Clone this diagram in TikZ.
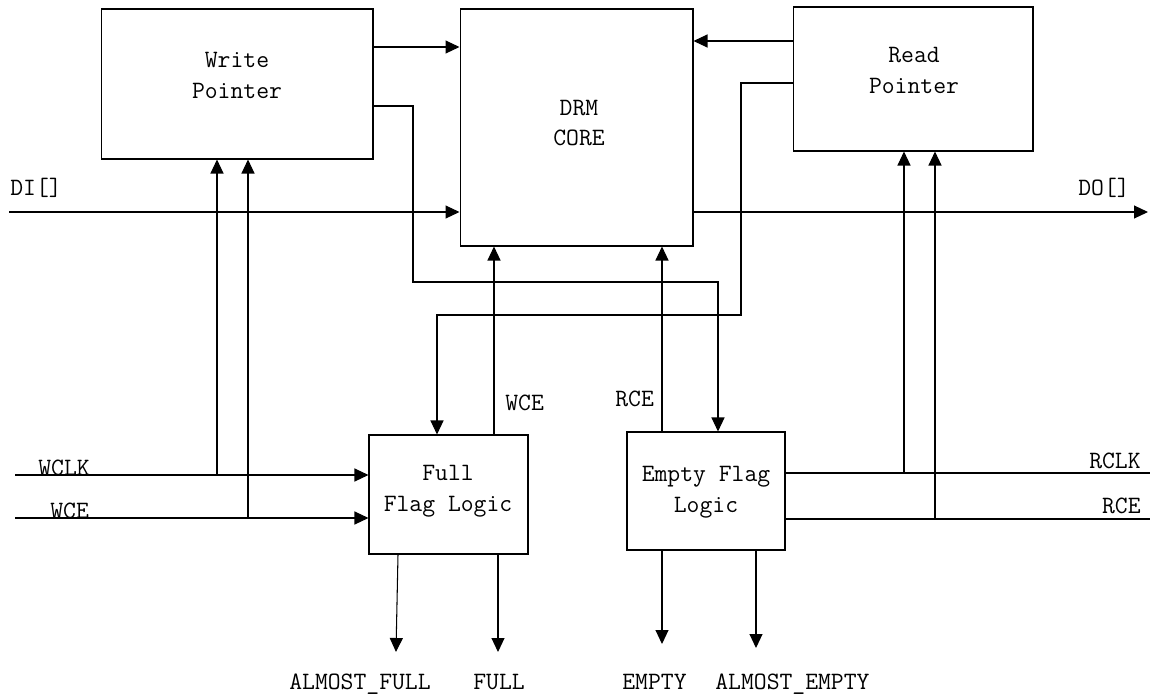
\documentclass[tikz,border=0pt]{standalone}
\usepackage{fontspec}
\usepackage{tikz}
\usetikzlibrary{arrows.meta,positioning}

\begin{document}
\begin{tikzpicture}[x=0.02cm, y=-0.02cm, font=\ttfamily\fontsize{14.2}{17.6}\selectfont]
			\tikzstyle{Block}	= [draw, line width=0.6pt, inner sep=0pt]
			\tikzstyle{Name}	= [align=center, inner sep=0pt]
			\tikzstyle{Sig}		= [line width=0.6pt, -{Triangle[length=0.28cm, width=0.26cm]}]
			\tikzstyle{Wire}	= [line width=0.6pt]
			\tikzstyle{Pin}		= [inner sep=0pt]

			\useasboundingbox (0,0) rectangle (1150,697);

			% blocks
			\node (WP)  at (237,84)      [Block, minimum width=5.44cm, minimum height=3cm] {};
			\node (DRM) at (576.5,127.5) [Block, minimum width=4.66cm, minimum height=4.74cm] {};
			\node (RP)  at (913,79)      [Block, minimum width=4.8cm, minimum height=2.88cm] {};
			\node (FFL) at (448.5,494.5) [Block, minimum width=3.18cm, minimum height=2.38cm] {};
			\node (EFL) at (706,491)     [Block, minimum width=3.16cm, minimum height=2.36cm] {};
			\node (WPt)  at (237,75.5) [Name] {Write\\Pointer};
			\node (DRMt) at (579,123)  [Name] {DRM\\CORE};
			\node (RPt)  at (914,70)   [Name] {Read\\Pointer};
			\node (FFLt) at (448,491)  [Name] {Full\\Flag Logic};
			\node (EFLt) at (706,492)  [Name] {Empty Flag\\Logic};

			% pointers to core
			\draw [Sig] (WP.east |- 0,47) -- (DRM.west |- 0,47);
			\draw [Sig] (RP.west |- 0,41) -- (DRM.east |- 0,41);

			% data in / out
			\coordinate (DIin)  at (9,212);
			\coordinate (DOout) at (1148,212);
			\draw [Sig] (DIin) -- (DIin -| DRM.west);
			\draw [Sig] (DOout -| DRM.east) -- (DOout);
			\node (lDI) at (10,195)   [Pin, anchor=base west] {DI[]};
			\node (lDO) at (1078,195) [Pin, anchor=base west] {DO[]};

			% pointers to flag logic
			\coordinate (wbend) at (413,282);
			\coordinate (rbend) at (741,315);
			\draw [Sig] (WP.east |- 0,106) -| (wbend) -| (718,0 |- EFL.north);
			\draw [Sig] (RP.west |- 0,83) -| (rbend) -| (437,0 |- FFL.north);

			% enables to core
			\draw [Sig] (494,0 |- FFL.north) -- (494,0 |- DRM.south);
			\draw [Sig] (662,0 |- EFL.north) -- (662,0 |- DRM.south);
			\node (lWCEc) at (505,410) [Pin, anchor=base west] {WCE};
			\node (lRCEc) at (615,406) [Pin, anchor=base west] {RCE};

			% write side inputs
			\foreach \x/\y/\t in {217/475/WCLK, 248/518/WCE} {
				\coordinate (in\t)  at (15,\y);
				\coordinate (tap\t) at (\x,\y);
				\draw [Sig] (in\t) -- (in\t -| FFL.west);
				\draw [Sig] (tap\t) -- (tap\t |- WP.south);
			}
			\node (lWCLK) at (38,475) [Pin, anchor=base west] {WCLK};
			\node (lWCE)  at (50,518) [Pin, anchor=base west] {WCE};

			% read side inputs
			\foreach \x/\y/\t in {904/473/RCLK, 935/519/RCE} {
				\coordinate (in\t)  at (1150,\y);
				\coordinate (tap\t) at (\x,\y);
				\draw [Wire] (in\t -| EFL.east) -- (in\t);
				\draw [Sig] (tap\t) -- (tap\t |- RP.south);
			}
			\node (lRCLK) at (1141,468) [Pin, anchor=base east] {RCLK};
			\node (lRCE)  at (1141,513) [Pin, anchor=base east] {RCE};

			% flag outputs
			\foreach \n/\a/\b/\y in {FFL/398/396/652, FFL/498/498/652, EFL/662/662/644, EFL/756/756/648} {
				\coordinate (out\a) at (\b,\y);
				\draw [Sig] (\a,0 |- \n.south) -- (out\a);
			}
			\foreach \x/\t in {289/ALMOST\_FULL, 473/FULL, 622/EMPTY, 715/ALMOST\_EMPTY}
				\node (l\x) at (\x,689) [Pin, anchor=base west] {\t};
\end{tikzpicture}
\end{document}
